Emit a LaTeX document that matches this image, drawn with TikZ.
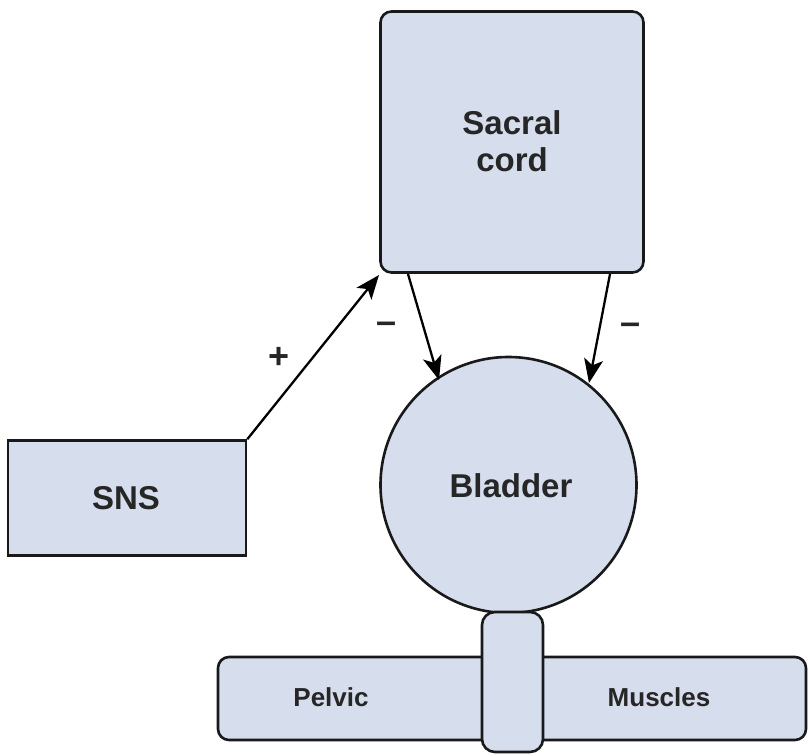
\documentclass[tikz,border=0pt]{standalone}
\usepackage{fontspec}
\setmainfont{Liberation Sans}
\usetikzlibrary{arrows.meta}
\definecolor{boxfill}{HTML}{D6DDEC}
\tikzset{
  shp/.style={draw=black!90, fill=boxfill, line width=2.6pt},
  lbl/.style={font=\bfseries\fontsize{33}{37}\selectfont, text=black!85, align=center},
  slbl/.style={font=\bfseries\fontsize{26}{30}\selectfont, text=black!85},
  conn/.style={line width=2.3pt, -{Stealth[length=24pt,width=19pt,inset=6pt]}},
  sign/.style={font=\bfseries\fontsize{36}{38}\selectfont, text=black!85}
}
\begin{document}
\begin{tikzpicture}[x=1pt,y=-1pt]
\useasboundingbox (0,0) rectangle (808,755);
% sacral cord
\node[shp, rounded corners=11pt, minimum width=263pt, minimum height=261pt, inner sep=0pt] (sc) at (512,142) {};
\node[lbl] (sct) at (512,141) {Sacral\\cord};
% SNS
\node[shp, minimum width=238pt, minimum height=115pt, inner sep=0pt] (sns) at (127,498) {};
\node[lbl] (snst) at (126,498) {SNS};
% bladder
\node[shp, circle, minimum size=256pt, inner sep=0pt] (bl) at (508.5,485) {};
\node[lbl] (blt) at (511,486) {Bladder};
% pelvic bar
\node[shp, rounded corners=11pt, minimum width=588pt, minimum height=83pt, inner sep=0pt] (pb) at (512,698.5) {};
\node[slbl] (pt) at (331,697) {Pelvic};
\node[slbl] (mt) at (659,697) {Muscles};
% capsule
\node[shp, rounded corners=13pt, minimum width=61pt, minimum height=140pt, inner sep=0pt] (cap) at (512.5,682) {};
% connectors
\coordinate (c1) at (379,275);
\coordinate (s1) at (408,274);
\coordinate (t1) at (439,380);
\coordinate (s2) at (610,274);
\coordinate (t2) at (589,383);
\draw[conn] (sns.north east) -- (c1);
\draw[conn] (s1) -- (t1);
\draw[conn] (s2) -- (t2);
\node[sign] (plus) at (279,358) {+};
\node[sign] (m1) at (387,328) {–};
\node[sign] (m2) at (631,329) {–};
\end{tikzpicture}
\end{document}
